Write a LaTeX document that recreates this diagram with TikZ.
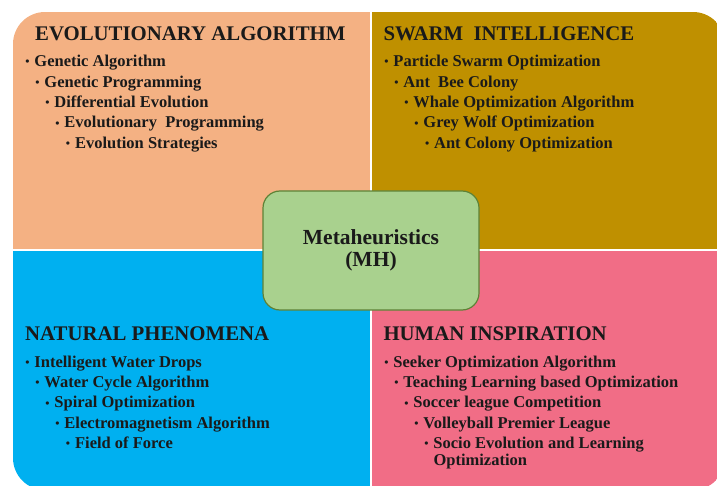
\documentclass[tikz,border=0pt]{standalone}
\usepackage{fontspec}
\setmainfont{Liberation Serif}
\definecolor{peach}{HTML}{F4B183}
\definecolor{gold}{HTML}{BF9000}
\definecolor{sky}{HTML}{00B0F0}
\definecolor{rose}{HTML}{F16D86}
\definecolor{hubfill}{HTML}{A9D18E}
\definecolor{hubline}{HTML}{5E8237}
\definecolor{ink}{HTML}{1A1A1A}
% small list bullet, keeping the width of a normal one
\newcommand{\dotmark}{\makebox[5.8pt][c]{\fontsize{12}{12}\selectfont\raisebox{0.9pt}{\textbullet}}\ }
\begin{document}
\begin{tikzpicture}[x=1pt,y=-1pt,
  title/.style={anchor=base west, inner sep=0pt, text=ink,
    font=\fontsize{20.8}{22}\selectfont\bfseries},
  item/.style={anchor=base west, inner sep=0pt, text=ink,
    font=\fontsize{16.5}{16.7}\selectfont\bfseries},
  hub/.style={draw=hubline, fill=hubfill, line width=1.2pt,
    rounded corners=17pt, minimum width=216pt, minimum height=119pt,
    align=center, text=ink, font=\fontsize{21.5}{22.5}\selectfont\bfseries}]
\useasboundingbox (0,0) rectangle (717,486);
\clip (0,0) rectangle (717,486);

% four coloured quadrants inside one rounded frame
\begin{scope}
  \clip[rounded corners=32pt] (13,12) rectangle (725,490);
  \fill[peach] (13,12) rectangle (369.5,249.5);
  \fill[gold] (371.5,12) rectangle (725,249.5);
  \fill[sky] (13,251.5) rectangle (369.5,490);
  \fill[rose] (371.5,251.5) rectangle (725,490);
\end{scope}

% Evolutionary algorithms
\node[title] (ea) at (35,40.7) {EVOLUTIONARY ALGORITHM};
\node[item] (ea1) at (24.3,66.7) {\dotmark Genetic Algorithm};
\node[item] (ea2) at (34.3,87.2) {\dotmark Genetic Programming};
\node[item] (ea3) at (44.3,107.6) {\dotmark Differential Evolution};
\node[item] (ea4) at (54.3,128.0) {\dotmark Evolutionary\ \ Programming};
\node[item] (ea5) at (65,148.4) {\dotmark Evolution Strategies};

% Swarm intelligence
\node[title] (si) at (383.3,40.7) {SWARM\ \ INTELLIGENCE};
\node[item] (si1) at (383.3,66.7) {\dotmark Particle Swarm Optimization};
\node[item] (si2) at (393.3,87.2) {\dotmark Ant\ \ Bee Colony};
\node[item] (si3) at (403.3,107.6) {\dotmark Whale Optimization Algorithm};
\node[item] (si4) at (413.3,128.0) {\dotmark Grey Wolf Optimization};
\node[item] (si5) at (424,148.4) {\dotmark Ant Colony Optimization};

% Natural phenomena
\node[title] (np) at (25,340) {NATURAL PHENOMENA};
\node[item] (np1) at (24.3,367.3) {\dotmark Intelligent Water\ Drops};
\node[item] (np2) at (34.3,387.7) {\dotmark Water Cycle Algorithm};
\node[item] (np3) at (44.3,407.9) {\dotmark Spiral Optimization};
\node[item] (np4) at (54.3,428.1) {\dotmark Electromagnetism Algorithm};
\node[item] (np5) at (65,448.3) {\dotmark Field of Force};

% Human inspiration
\node[title] (hi) at (383.3,340) {HUMAN INSPIRATION};
\node[item] (hi1) at (383.3,367.3) {\dotmark Seeker Optimization\ Algorithm};
\node[item] (hi2) at (393.3,387.7) {\dotmark Teaching Learning based Optimization};
\node[item] (hi3) at (403.3,407.9) {\dotmark Soccer league Competition};
\node[item] (hi4) at (413.3,428.1) {\dotmark Volleyball Premier League};
\node[item] (hi5) at (423.3,448.3) {\dotmark Socio Evolution and Learning};
\node[item] (hi5b) at (433.3,465) {Optimization};

% central hub
\node[hub] (mh) at (371,250.5) {Metaheuristics\\(MH)};
\end{tikzpicture}
\end{document}
